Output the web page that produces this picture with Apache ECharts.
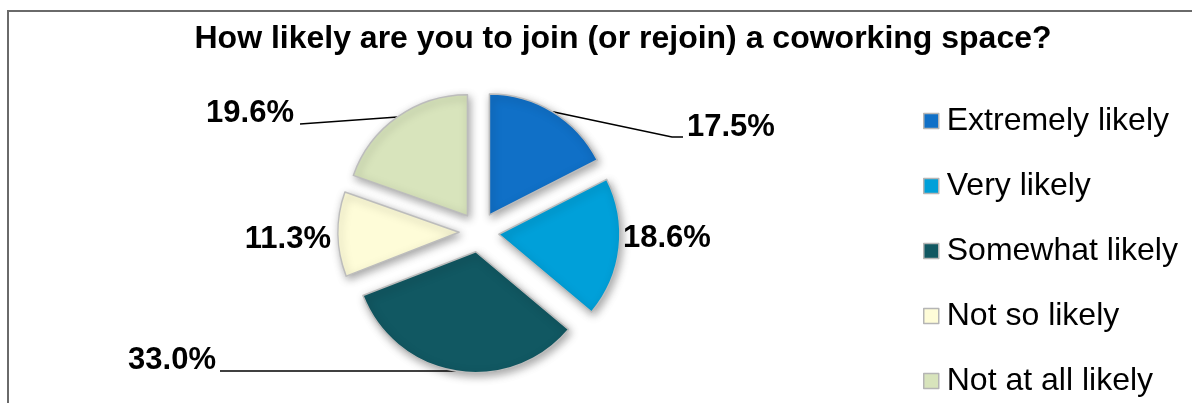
<!DOCTYPE html>
<html>
<head>
<meta charset="utf-8">
<script src="https://cdn.jsdelivr.net/npm/echarts@6/dist/echarts.min.js"></script>
<style>
html,body{margin:0;padding:0;background:#fff;}
#chart{width:1192px;height:403px;}
</style>
</head>
<body>
<div id="chart"></div>
<script>
const title = 'How likely are you to join (or rejoin) a coworking space?';
const categories = ['Extremely likely', 'Very likely', 'Somewhat likely', 'Not so likely', 'Not at all likely'];
const values = [17.5, 18.6, 33.0, 11.3, 19.6];
const colors = ['#1070c7', '#00a0d9', '#115862', '#fefcd8', '#d8e4bc'];
const showLine = [true, false, true, false, true];

// label placement (style only)
const labelSpots = [
  { x: 687, y: 127, align: 'left',  end: [[672, 137], [683, 137]] },
  { x: 623, y: 238, align: 'left' },
  { x: 216, y: 360, align: 'right', end: [[220, 371]] },
  { x: 331, y: 239, align: 'right' },
  { x: 294, y: 113, align: 'right', end: [[300, 124]] }
];

const FONT = '"Liberation Sans", Arial, sans-serif';
const CENTER = [479, 232];
const RADIUS = 121;
const OFFSET = 20;

const chart = echarts.init(document.getElementById('chart'), null, { renderer: 'canvas' });

chart.setOption({
  animation: false,
  backgroundColor: '#ffffff',
  title: {
    text: title,
    left: 618,
    textAlign: 'center',
    top: 18,
    textStyle: { fontFamily: FONT, fontSize: 32, fontWeight: 'bold', color: '#000', lineHeight: 32 }
  },
  legend: {
    orient: 'vertical',
    left: 923,
    top: 105,
    padding: 0,
    itemWidth: 15,
    itemHeight: 15,
    itemGap: 33,
    icon: 'rect',
    selectedMode: false,
    data: categories,
    itemStyle: { borderColor: '#b5b5b5', borderWidth: 1.5, shadowBlur: 0, shadowOffsetX: 0, shadowOffsetY: 0 },
    textStyle: { fontFamily: FONT, fontSize: 32, color: '#000', lineHeight: 32, padding: [0, 0, 0, 3] }
  },
  graphic: [{
    type: 'polyline',
    shape: { points: [[8, 420], [8, 11], [1200, 11]] },
    style: { stroke: '#6a6a6a', lineWidth: 2, fill: null },
    silent: true
  }],
  series: [{
    type: 'pie',
    name: 'slices',
    center: CENTER,
    radius: RADIUS,
    startAngle: 90,
    clockwise: true,
    selectedMode: 'multiple',
    selectedOffset: OFFSET,
    avoidLabelOverlap: false,
    emphasis: { scale: false, disabled: true },
    itemStyle: {
      borderColor: '#bcbcbc',
      borderWidth: 1.5,
      shadowBlur: 8,
      shadowColor: 'rgba(0,0,0,0.35)',
      shadowOffsetX: 2,
      shadowOffsetY: 3
    },
    label: { show: false },
    labelLine: { show: false },
    data: categories.map((name, i) => ({
      name: name,
      value: values[i],
      selected: true,
      itemStyle: { color: colors[i] }
    }))
  }, {
    // invisible ring carrying the data labels, its rim sits on the exploded slices' arcs
    type: 'pie',
    name: 'labels',
    center: CENTER,
    radius: RADIUS + OFFSET,
    startAngle: 90,
    clockwise: true,
    silent: true,
    selectedMode: false,
    avoidLabelOverlap: false,
    emphasis: { disabled: true },
    itemStyle: { color: 'rgba(0,0,0,0)', borderWidth: 0, shadowBlur: 0 },
    label: {
      show: true,
      position: 'outside',
      formatter: p => p.value.toFixed(1) + '%',
      fontFamily: FONT,
      fontSize: 31,
      fontWeight: 'bold',
      color: '#000'
    },
    labelLine: {
      show: true,
      length: 20,
      length2: 10,
      smooth: false,
      lineStyle: { color: '#000', width: 1.5 }
    },
    labelLayout: function (p) {
      const s = labelSpots[p.dataIndex];
      const o = { x: s.x, y: s.y, align: s.align, verticalAlign: 'middle' };
      if (s.end && p.labelLinePoints) {
        o.labelLinePoints = [p.labelLinePoints[0]].concat(s.end);
      }
      return o;
    },
    data: categories.map((name, i) => ({
      name: name,
      value: values[i],
      labelLine: { show: showLine[i] }
    }))
  }]
});
</script>
</body>
</html>
